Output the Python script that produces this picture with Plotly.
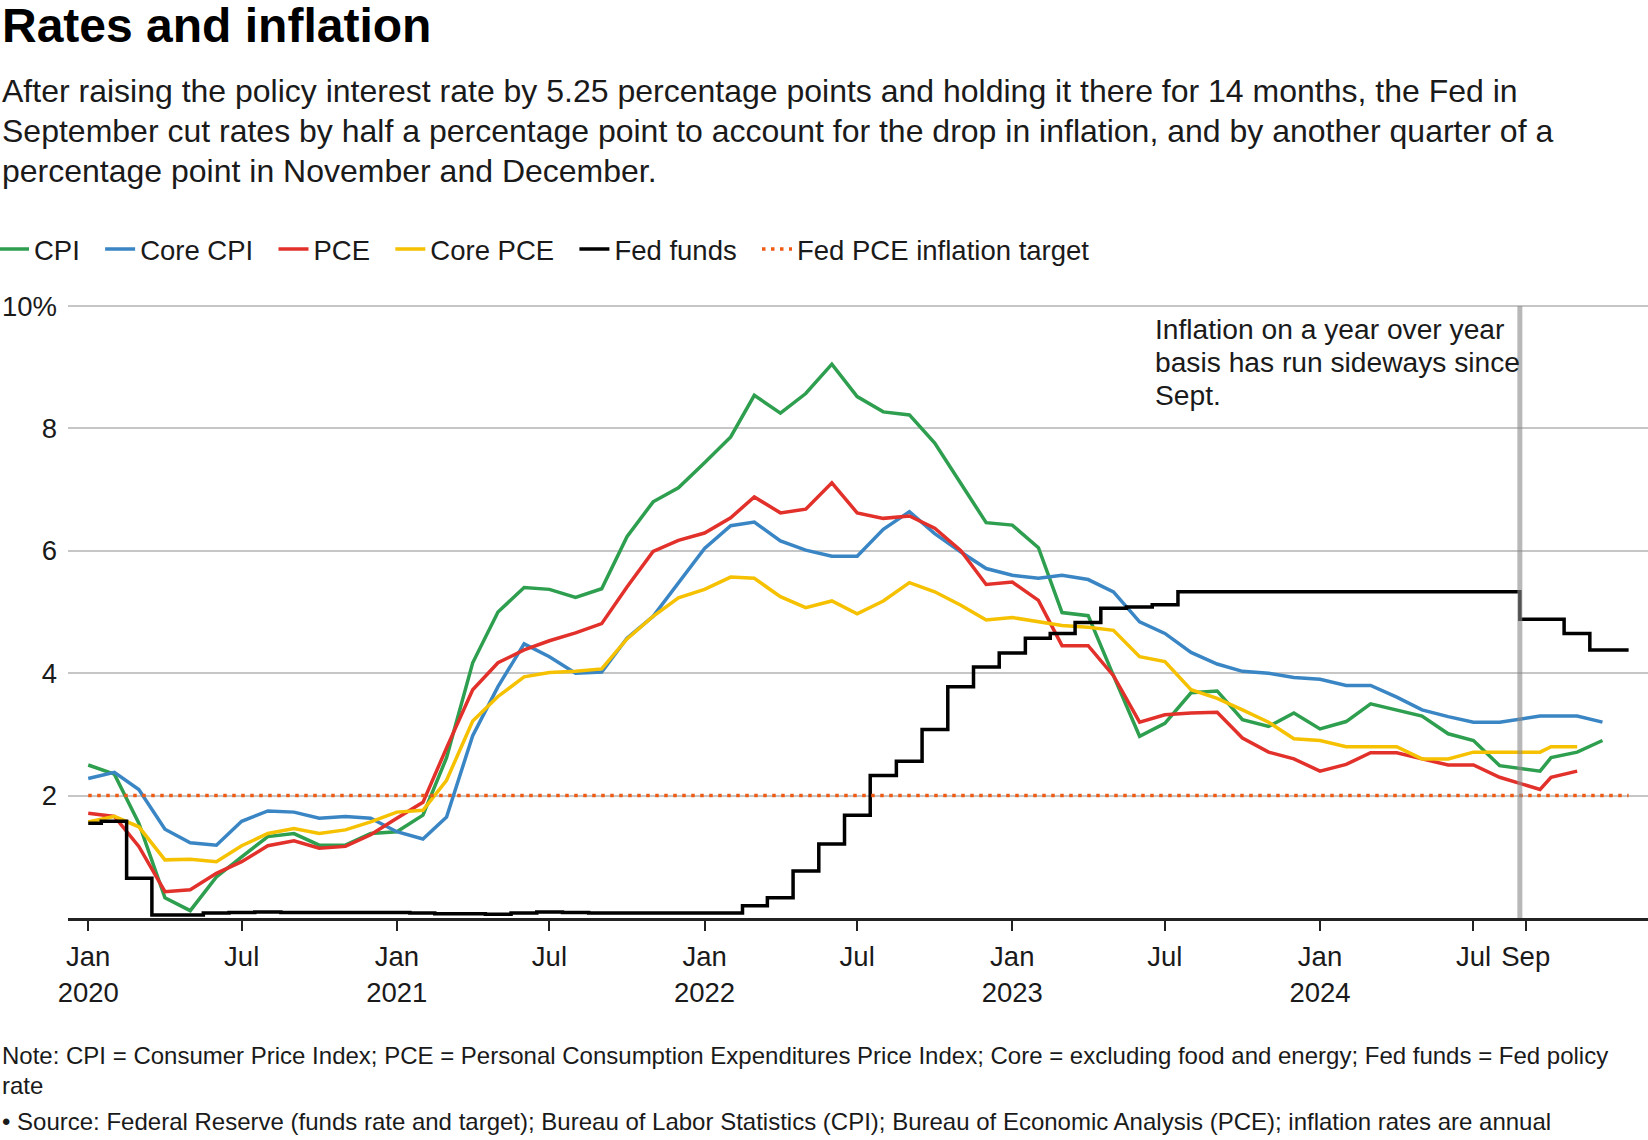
import pandas as pd
import plotly.graph_objects as go

# ---------------- data ----------------
months = pd.date_range("2020-01-01", "2024-12-01", freq="MS").strftime("%Y-%m-%d").tolist()
# September 2024 observation is plotted at the Sept. 18 rate-cut date
months = [("2024-09-18" if m == "2024-09-01" else m) for m in months]
ff_dates = months + ["2025-01-01"]

cpi = [2.50, 2.35, 1.55, 0.33, 0.12, 0.67, 1.00, 1.33, 1.38, 1.19, 1.19, 1.38,
       1.41, 1.68, 2.62, 4.17, 5.00, 5.40, 5.37, 5.24, 5.38, 6.23, 6.80, 7.03,
       7.44, 7.86, 8.54, 8.25, 8.57, 9.05, 8.52, 8.27, 8.22, 7.76, 7.10, 6.46,
       6.42, 6.05, 4.99, 4.94, 3.96, 2.97, 3.18, 3.68, 3.71, 3.24, 3.13, 3.35,
       3.09, 3.21, 3.50, 3.40, 3.30, 3.01, 2.90, 2.49, 2.40, 2.62, 2.71, 2.90]

core_cpi = [2.28, 2.38, 2.10, 1.45, 1.23, 1.19, 1.58, 1.75, 1.73, 1.63, 1.66, 1.63,
            1.41, 1.29, 1.65, 2.98, 3.78, 4.48, 4.27, 4.00, 4.02, 4.57, 4.93, 5.47,
            6.04, 6.41, 6.47, 6.16, 6.01, 5.91, 5.91, 6.35, 6.64, 6.28, 5.98, 5.71,
            5.60, 5.55, 5.60, 5.53, 5.33, 4.84, 4.65, 4.34, 4.15, 4.03, 4.00, 3.93,
            3.90, 3.80, 3.80, 3.61, 3.40, 3.29, 3.20, 3.20, 3.30, 3.30, 3.30, 3.20]

pce = [1.71, 1.66, 1.17, 0.43, 0.46, 0.73, 0.92, 1.18, 1.26, 1.14, 1.17, 1.36,
       1.63, 1.89, 2.78, 3.73, 4.17, 4.38, 4.53, 4.66, 4.81, 5.41, 5.99, 6.17,
       6.29, 6.54, 6.88, 6.62, 6.68, 7.11, 6.62, 6.53, 6.57, 6.37, 6.00, 5.45,
       5.49, 5.19, 4.45, 4.45, 3.96, 3.20, 3.32, 3.35, 3.36, 2.94, 2.71, 2.60,
       2.40, 2.51, 2.70, 2.70, 2.60, 2.50, 2.50, 2.30, 2.10, 2.30, 2.40]

core_pce = [1.57, 1.66, 1.49, 0.95, 0.96, 0.92, 1.18, 1.38, 1.46, 1.38, 1.44, 1.57,
            1.73, 1.76, 2.25, 3.22, 3.62, 3.94, 4.01, 4.03, 4.07, 4.56, 4.93, 5.23,
            5.37, 5.57, 5.55, 5.25, 5.07, 5.18, 4.97, 5.18, 5.48, 5.33, 5.11, 4.87,
            4.91, 4.84, 4.78, 4.75, 4.70, 4.27, 4.19, 3.73, 3.59, 3.40, 3.20, 2.93,
            2.90, 2.80, 2.80, 2.80, 2.60, 2.60, 2.71, 2.71, 2.71, 2.80, 2.80]

fed_funds = [1.55, 1.58, 0.65, 0.05, 0.05, 0.08, 0.09, 0.10, 0.09, 0.09, 0.09, 0.09,
             0.09, 0.08, 0.07, 0.07, 0.06, 0.08, 0.10, 0.09, 0.08, 0.08, 0.08, 0.08,
             0.08, 0.08, 0.20, 0.33, 0.77, 1.21, 1.68, 2.33, 2.56, 3.08, 3.78, 4.10,
             4.33, 4.57, 4.65, 4.83, 5.06, 5.08, 5.12, 5.33, 5.33, 5.33, 5.33, 5.33,
             5.33, 5.33, 5.33, 5.33, 5.33, 5.33, 5.33, 5.33, 4.88, 4.88, 4.65, 4.38,
             4.38]

target_dates = ["2020-01-01", "2025-01-01"]
target = [2, 2]

marker_date = "2024-08-25"

x_tickvals = ["2020-01-01", "2020-07-01", "2021-01-01", "2021-07-01", "2022-01-01",
              "2022-07-01", "2023-01-01", "2023-07-01", "2024-01-01", "2024-07-01",
              "2024-09-01"]
x_ticktext = ["Jan<br>2020", "Jul", "Jan<br>2021", "Jul", "Jan<br>2022", "Jul",
              "Jan<br>2023", "Jul", "Jan<br>2024", "Jul", "Sep"]
y_tickvals = [2, 4, 6, 8, 10]
y_ticktext = ["2", "4", "6", "8", "10%"]

# ---------------- style ----------------
FONT = "Liberation Sans, Arial, Helvetica, sans-serif"
TXT = "#1a1a1a"
W, H = 1648, 1140
L, R, T, B = 68, 0, 304, 222
PH = H - T - B
PW = W - L - R
YTOP = 10 + 2 / 61.2

def px_x(p):
    return (p - L) / PW

def px_y(p):
    return (H - B - p) / PH

PAD = "&nbsp;&nbsp;"

fig = go.Figure()
series = [
    ("CPI", months, cpi, "#2e9e4f"),
    ("Core CPI", months, core_cpi, "#3a86c5"),
    ("PCE", months[:len(pce)], pce, "#e2302b"),
    ("Core PCE", months[:len(core_pce)], core_pce, "#f5c100"),
]
for name, xs, ys, col in series:
    fig.add_trace(go.Scatter(x=xs, y=ys, name=name + PAD, mode="lines",
                             line=dict(color=col, width=3.5)))
fig.add_trace(go.Scatter(x=ff_dates, y=fed_funds, name="Fed funds" + PAD, mode="lines",
                         line=dict(color="#000000", width=3.5, shape="hvh")))
fig.add_trace(go.Scatter(x=target_dates, y=target, name="Fed PCE inflation target",
                         mode="lines",
                         line=dict(color="#ef5a14", width=3.5, dash="3.5px,5.5px")))

fig.add_shape(type="line", xref="x", yref="y", x0=marker_date, x1=marker_date,
              y0=0, y1=10, line=dict(color="#8a8a8a", width=5), opacity=0.6,
              layer="above")

ann = []
ann.append(dict(text="<b>Rates and inflation</b>", x=px_x(0), y=px_y(25),
                font=dict(size=48, color="#000000", family=FONT)))
sub = ["After raising the policy interest rate by 5.25 percentage points and holding it there for 14 months, the Fed in",
       "September cut rates by half a percentage point to account for the drop in inflation, and by another quarter of a",
       "percentage point in November and December."]
for i, s in enumerate(sub):
    ann.append(dict(text=s, x=px_x(0), y=px_y(91 + 40 * i),
                    font=dict(size=32, color=TXT, family=FONT)))
note = ["Inflation on a year over year", "basis has run sideways since", "Sept."]
for i, s in enumerate(note):
    ann.append(dict(text=s, x=px_x(1153), y=px_y(328.5 + 33 * i),
                    font=dict(size=28.2, color=TXT, family=FONT)))
foot = ["Note: CPI = Consumer Price Index; PCE = Personal Consumption Expenditures Price Index; Core = excluding food and energy; Fed funds = Fed policy",
        "rate",
        "• Source: Federal Reserve (funds rate and target); Bureau of Labor Statistics (CPI); Bureau of Economic Analysis (PCE); inflation rates are annual"]
for s, yb in zip(foot, [1063, 1093, 1129]):
    ann.append(dict(text=s, x=px_x(0), y=px_y(yb - 8),
                    font=dict(size=24, color=TXT, family=FONT)))
for a in ann:
    a.update(xref="paper", yref="paper", xanchor="left", yanchor="middle",
             showarrow=False, align="left")

fig.update_layout(
    width=W, height=H,
    margin=dict(l=L, r=R, t=T, b=B, pad=0, autoexpand=False),
    paper_bgcolor="white", plot_bgcolor="white",
    font=dict(family=FONT, size=27.5, color=TXT),
    annotations=ann,
    showlegend=True,
    legend=dict(orientation="h", x=px_x(-6), xanchor="left",
                y=px_y(249), yanchor="middle",
                font=dict(size=27.5, color=TXT, family=FONT),
                bgcolor="rgba(0,0,0,0)", itemwidth=30, tracegroupgap=0,
                borderwidth=0),
    xaxis=dict(type="date", range=["2019-12-08", "2025-01-24"],
               tickvals=x_tickvals, ticktext=x_ticktext, tickangle=0,
               showgrid=False, zeroline=False,
               showline=True, linecolor="#222222", linewidth=2.5,
               ticks="outside", ticklen=10, tickwidth=2, tickcolor="#222222",
               ticklabelstandoff=2,
               tickfont=dict(size=27.5, color=TXT, family=FONT)),
    yaxis=dict(range=[0, YTOP], tickvals=y_tickvals, ticktext=y_ticktext,
               showgrid=True, gridcolor="#c6c6c6", gridwidth=2,
               zeroline=False, showline=False, ticks="", ticklabelstandoff=10,
               tickfont=dict(size=27.5, color=TXT, family=FONT)),
)

fig.write_html("out.html",
               config={"displayModeBar": False},
               post_script="document.body.style.margin='0';"
                           "document.body.style.overflow='hidden';")
